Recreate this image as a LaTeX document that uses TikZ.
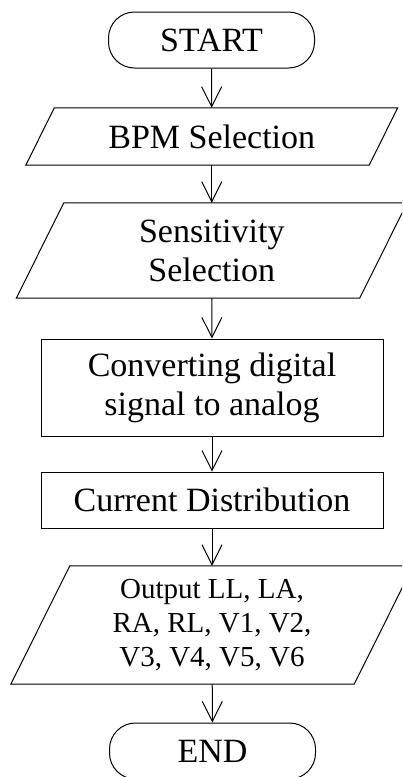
\documentclass[tikz,border=0pt]{standalone}
\usepackage{fontspec}
\setmainfont{Liberation Serif}
\usetikzlibrary{arrows.meta,calc}

\tikzset{
  flow/.style={line width=1pt, -{Straight Barb[length=20pt,width=20pt,line width=1pt]}},
  termbox/.style={draw, line width=1pt, rounded corners=26pt, minimum width=206pt, minimum height=56pt, inner sep=0pt},
  procbox/.style={draw, line width=1pt, minimum width=342pt, inner sep=0pt, align=center},
  iobox/.style={minimum width=343pt, inner sep=0pt, align=center},
  bigtext/.style={font=\fontsize{34}{39}\selectfont},
  smalltext/.style={font=\fontsize{29}{34}\selectfont},
}

% parallelogram drawn around a named io node; #2 is a quarter of its height
\newcommand{\iosides}[2]{%
  \draw[line width=1pt] ($(#1.north west)+(#2,0)$) -- ($(#1.north east)+(#2,0)$)
    -- ($(#1.south east)-(#2,0)$) -- ($(#1.south west)-(#2,0)$) -- cycle;}

\begin{document}
\begin{tikzpicture}[x=1pt,y=-1pt]
  \useasboundingbox (0,0) rectangle (402,777);
  \clip (0,0) rectangle (402,777);

  \node[termbox, bigtext] (start) at (211.5,40) {START};
  \node[iobox, bigtext, minimum height=57pt] (bpm) at (211.75,136.5) {BPM Selection};
  \node[iobox, bigtext, minimum height=95pt] (sens) at (211.75,250.5) {Sensitivity\\Selection};
  \node[procbox, bigtext, minimum height=97pt] (conv) at (212,387.5) {Converting digital\\signal to analog};
  \node[procbox, bigtext, minimum height=56pt] (curr) at (212,500) {Current Distribution};
  \node[iobox, smalltext, minimum height=118pt] (out) at (212,625) {Output LL, LA,\\RA, RL, V1, V2,\\V3, V4, V5, V6};
  \node[termbox, bigtext] (end) at (212.5,751) {END};

  \iosides{bpm}{14.25}
  \iosides{sens}{23.75}
  \iosides{out}{29.5}

  \draw[flow] (start) -- (bpm);
  \draw[flow] (bpm) -- (sens);
  \draw[flow] (sens) -- (conv);
  \draw[flow] (conv) -- (curr);
  \draw[flow] (curr) -- (out);
  \draw[flow] (out) -- (end);
\end{tikzpicture}
\end{document}
